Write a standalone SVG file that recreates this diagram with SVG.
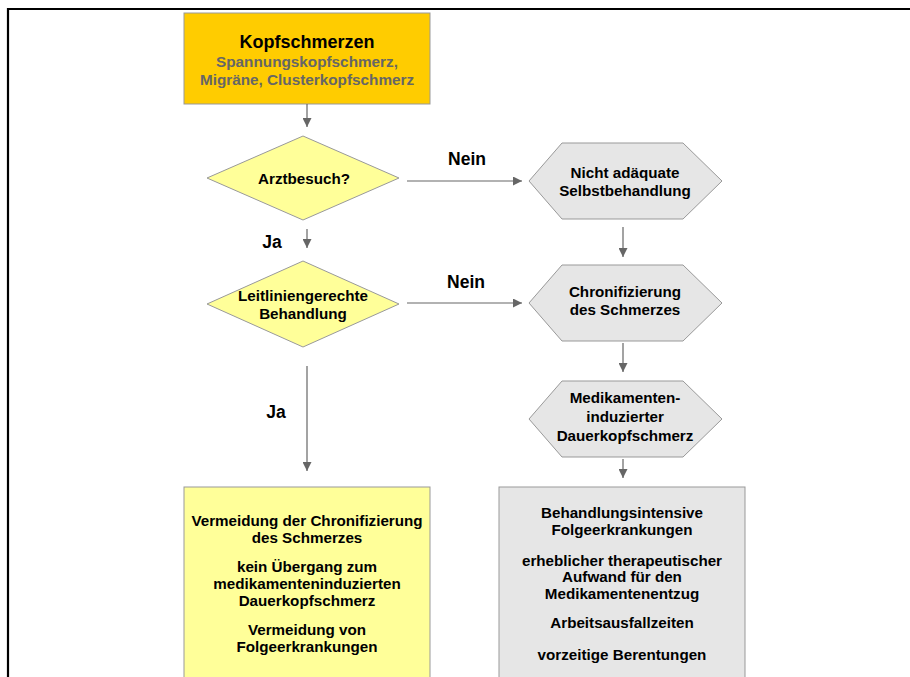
<svg xmlns="http://www.w3.org/2000/svg" width="910" height="677" viewBox="0 0 910 677">
<defs>
<marker id="ah" viewBox="0 0 10 10" refX="10" refY="5" markerWidth="9" markerHeight="9" markerUnits="userSpaceOnUse" orient="auto">
<path d="M0,0 L10,5 L0,10 Z" fill="#666"/>
</marker>
<style>
text{font-family:"Liberation Sans",Arial,sans-serif;font-weight:bold;text-anchor:middle;fill:#000}
.t{font-size:15.2px}
.lab{font-size:17.5px}
.sub{fill:#666;font-size:15.3px}
.c{stroke:#666;stroke-width:1.2;fill:none;marker-end:url(#ah)}
.dia{fill:#FFFF99;stroke:#999;stroke-width:1}
.hex{fill:#E6E6E6;stroke:#999;stroke-width:1}
</style>
</defs>
<rect width="910" height="677" fill="#fff"/>
<path d="M8,677 V9 H910" fill="none" stroke="#000" stroke-width="2.2"/>

<g id="kopfschmerzen">
<rect x="184" y="13" width="246" height="91" fill="#FFCC00" stroke="#999"/>
<text x="307" y="48" style="font-size:18px">Kopfschmerzen</text>
<text class="sub" x="307" y="66.5">Spannungskopfschmerz,</text>
<text class="sub" x="307" y="84.5">Migräne, Clusterkopfschmerz</text>
</g>

<g id="arztbesuch">
<polygon class="dia" points="303,136 399,178 303,220 207,178"/>
<text class="t" x="304" y="184">Arztbesuch?</text>
</g>

<g id="selbstbehandlung">
<polygon class="hex" points="529,181 562,143 683,143 722,181 683,219 562,219"/>
<text class="t" x="625" y="178">Nicht adäquate</text>
<text class="t" x="625" y="196">Selbstbehandlung</text>
</g>

<g id="leitlinie">
<polygon class="dia" points="303,261 399,304 303,347 207,304"/>
<text class="t" x="303" y="301">Leitliniengerechte</text>
<text class="t" x="303" y="319">Behandlung</text>
</g>

<g id="chronifizierung">
<polygon class="hex" points="529,303 562,265 683,265 722,303 683,341 562,341"/>
<text class="t" x="625" y="297">Chronifizierung</text>
<text class="t" x="625" y="315">des Schmerzes</text>
</g>

<g id="dauerkopfschmerz">
<polygon class="hex" points="529,419 562,381 683,381 722,419 683,457 562,457"/>
<text class="t" x="625" y="403">Medikamenten-</text>
<text class="t" x="625" y="422">induzierter</text>
<text class="t" x="625" y="441">Dauerkopfschmerz</text>
</g>

<g id="vermeidung">
<rect x="184" y="487" width="246" height="200" fill="#FFFF99" stroke="#999"/>
<text class="t" x="307" y="526">Vermeidung der Chronifizierung</text>
<text class="t" x="307" y="542.5">des Schmerzes</text>
<text class="t" x="307" y="571.5">kein Übergang zum</text>
<text class="t" x="307" y="588.5">medikamenteninduzierten</text>
<text class="t" x="307" y="605.5">Dauerkopfschmerz</text>
<text class="t" x="307" y="634.5">Vermeidung von</text>
<text class="t" x="307" y="651.5">Folgeerkrankungen</text>
</g>

<g id="folgen">
<rect x="499" y="487" width="246" height="200" fill="#E6E6E6" stroke="#999"/>
<text class="t" x="622" y="517.5">Behandlungsintensive</text>
<text class="t" x="622" y="534.5">Folgeerkrankungen</text>
<text class="t" x="622" y="565.5">erheblicher therapeutischer</text>
<text class="t" x="622" y="581.5">Aufwand für den</text>
<text class="t" x="622" y="598.5">Medikamentenentzug</text>
<text class="t" x="622" y="627.5">Arbeitsausfallzeiten</text>
<text class="t" x="622" y="659.5">vorzeitige Berentungen</text>
</g>

<g id="connectors">
<line class="c" x1="307" y1="104" x2="307" y2="127"/>
<line class="c" x1="407" y1="181" x2="522" y2="181"/>
<line class="c" x1="307" y1="229" x2="307" y2="248"/>
<line class="c" x1="407" y1="303" x2="522" y2="303"/>
<line class="c" x1="623" y1="227" x2="623" y2="257"/>
<line class="c" x1="623" y1="343" x2="623" y2="372"/>
<line class="c" x1="623" y1="459" x2="623" y2="478"/>
<line class="c" x1="307" y1="366" x2="307" y2="471"/>
<text class="lab" x="467" y="165">Nein</text>
<text class="lab" x="272" y="248">Ja</text>
<text class="lab" x="466" y="288">Nein</text>
<text class="lab" x="276" y="418">Ja</text>
</g>
</svg>
